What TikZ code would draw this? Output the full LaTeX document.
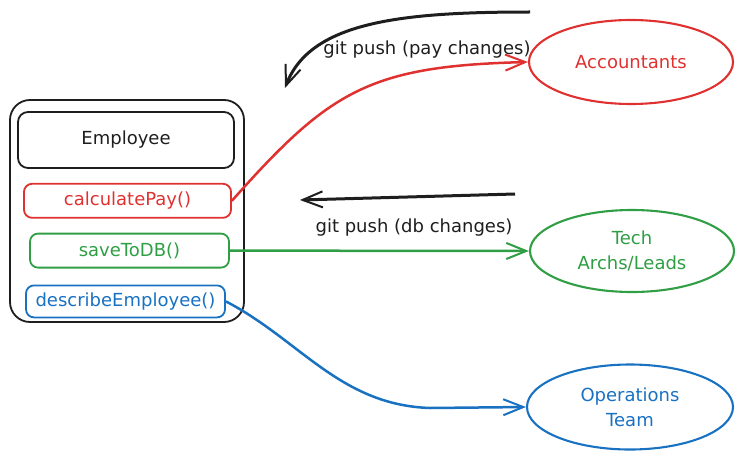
\documentclass[tikz,border=0pt]{standalone}
\usepackage{fontspec}
\setmainfont{DejaVu Sans}
\usetikzlibrary{positioning,shapes.geometric,arrows.meta}
\definecolor{payred}{HTML}{E03131}
\definecolor{dbgreen}{HTML}{2F9E44}
\definecolor{opsblue}{HTML}{1971C2}
\definecolor{inkblack}{HTML}{1E1E1E}

\begin{document}
\begin{tikzpicture}[x = 1pt, y = 1pt, node distance = 14pt,
  font = \fontsize{18}{25}\selectfont,
  method/.style = {draw, line width = 1.8pt, rounded corners = 8pt, minimum width = 199pt, minimum height = 34pt, inner sep = 0pt},
  team/.style = {ellipse, draw, line width = 2.1pt, minimum width = 204pt, minimum height = 84pt, align = center, inner sep = 0pt},
  push/.style = {-{Straight Barb[length = 20pt, width = 16pt, line width = 2pt]}, line width = 2.5pt}]
\useasboundingbox (0,0) rectangle (743,-460);

% the class and its methods
\node [draw, inkblack, line width = 1.8pt, rounded corners = 20pt, minimum width = 234pt, minimum height = 222pt, inner sep = 0pt] (class) at (127,-211) {};
\node [method, inkblack, minimum width = 216pt, minimum height = 56pt, rounded corners = 10pt] (employee) at (126,-140) {Employee};
\node [method, payred, minimum width = 207pt] (calc) [below = of employee, xshift = 1.5pt] {calculatePay()};
\node [method, dbgreen] (save) [below = of calc, xshift = 2pt] {saveToDB()};
\node [method, opsblue, minimum height = 32pt] (describe) [below = 16pt of save, xshift = -4pt] {describeEmployee()};

% the teams
\node [team, payred] (acc) at (631,-62) {Accountants};
\node [team, dbgreen, minimum height = 82pt] (tech) at (632,-251) {Tech\\Archs/Leads};
\node [team, opsblue, minimum height = 85pt, minimum width = 206pt] (ops) at (630,-407) {Operations\\Team};

% pushes back to the code
\coordinate (pay_from) at (530,-12);
\coordinate (pay_to) at (285,-88);
\coordinate (db_from) at (515,-194);
\coordinate (db_to) at (300,-200);
\draw [push, inkblack, line width = 3pt] (pay_from) .. controls (400,-12) and (310,-22) .. (pay_to);
\draw [push, inkblack, line width = 3pt] (db_from) -- (db_to);
\node [inkblack] (pay_label) at (427,-50) {git push (pay changes)};
\node [inkblack] (db_label) at (414,-228) {git push (db changes)};

% who owns which method
\draw [push, payred] (calc.east) .. controls (330,-90) and (370,-66) .. (acc.west);
\draw [push, dbgreen] (save.east) -- (tech.west);
\draw [push, opsblue] (describe.east) .. controls (300,-340) and (340,-405) .. (430,-408) -- (ops.west);
\end{tikzpicture}
\end{document}
